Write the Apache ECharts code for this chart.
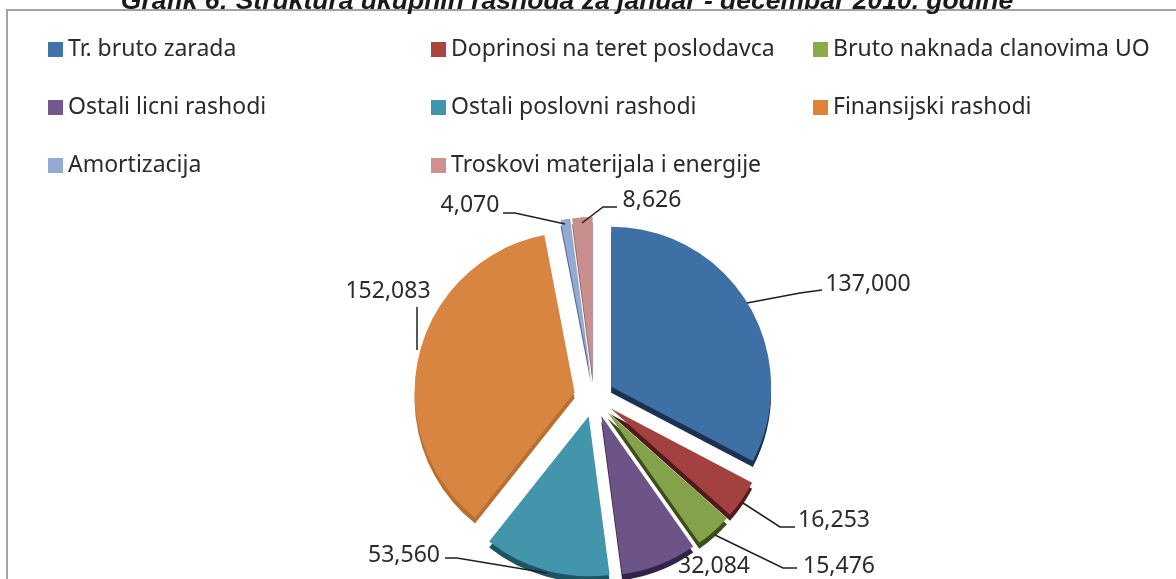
<!DOCTYPE html>
<html>
<head>
<meta charset="utf-8">
<style>
  html, body { margin: 0; padding: 0; background: #fff; }
  #main { width: 1176px; height: 579px; overflow: hidden; }
</style>
<script src="https://cdn.jsdelivr.net/npm/echarts@6/dist/echarts.min.js"></script>
</head>
<body>
<div id="main"></div>
<script>
const categories = ['Tr. bruto zarada', 'Doprinosi na teret poslodavca', 'Bruto naknada clanovima UO',
  'Ostali licni rashodi', 'Ostali poslovni rashodi', 'Finansijski rashodi', 'Amortizacija',
  'Troskovi materijala i energije'];
const values = [137000, 16253, 15476, 32084, 53560, 152083, 4070, 8626];
const faceColors = ['#3f70a5', '#a34140', '#84a24a', '#6d5488', '#4295ab', '#d78540', '#93a9cf', '#c98f8f'];
const sideColors = ['#1b3152', '#4f1a19', '#3d4d1d', '#33234a', '#1d5464', '#b86f30', '#5d6f91', '#8a5c5c'];
const legendColors = ['#4274a9', '#ab4340', '#8aaa4c', '#725891', '#3e97ae', '#de8438', '#93a9d0', '#d09090'];

const textColor = '#2b2a2c';
const center = [594, 397];
const radius = 160;

// text anchor and leader line of each data label, same order as categories
const labelSpots = [
  { x: 868, y: 284, line: [[747, 303], [800, 293], [822, 290]] },
  { x: 834, y: 520, line: [[743, 503], [780, 527], [795, 527]] },
  { x: 839, y: 566, line: [[715, 535], [783, 568], [797, 568]] },
  { x: 714, y: 566, line: null },
  { x: 404, y: 555, line: [[445, 558], [457, 558], [547, 573]] },
  { x: 388, y: 291, line: [[417, 307], [417, 330], [417, 350]] },
  { x: 470, y: 205, line: [[503, 213], [515, 213], [565, 224]] },
  { x: 652, y: 200, line: [[617, 207], [603, 207], [582, 223]] }
];

function pieData(colors) {
  return categories.map((name, i) => ({
    name,
    value: values[i],
    selected: true,
    itemStyle: { color: colors[i] }
  }));
}

function legendColumn(left, idx) {
  return {
    left, top: 33, orient: 'vertical',
    data: idx.map(i => ({ name: categories[i], itemStyle: { color: legendColors[i] } })),
    icon: 'rect', itemWidth: 15, itemHeight: 15, itemGap: 35,
    selectedMode: false,
    textStyle: { fontFamily: 'Noto Sans', fontSize: 23, color: textColor }
  };
}

const pieBase = {
  type: 'pie',
  radius: [0, radius],
  startAngle: 90,
  clockwise: true,
  selectedMode: 'multiple',
  selectedOffset: 20,
  animation: false,
  avoidLabelOverlap: false,
  silent: true,
  label: { show: false },
  labelLine: { show: false }
};

const chart = echarts.init(document.getElementById('main'), null, { renderer: 'canvas' });
chart.setOption({
  animation: false,
  backgroundColor: '#fff',
  title: {
    text: 'Grafik 6: Struktura ukupnih rashoda za januar - decembar 2010. godine',
    left: 562, top: -17, textAlign: 'center',
    textStyle: { fontFamily: 'Liberation Sans', fontSize: 26.5, fontWeight: 'bold', fontStyle: 'italic', color: '#1a1a1a' }
  },
  graphic: [{
    type: 'rect', z: -1, silent: true,
    shape: { x: 7, y: 10, width: 1300, height: 700 },
    style: { fill: 'none', stroke: '#a3a3a6', lineWidth: 2 }
  }],
  legend: [
    legendColumn(43, [0, 3, 6]),
    legendColumn(426, [1, 4, 7]),
    legendColumn(808, [2, 5])
  ],
  series: [
    // darker copy pushed down a little gives the tilted pie its side wall
    Object.assign({}, pieBase, {
      center: [center[0], center[1] + 6],
      z: 1,
      data: pieData(sideColors)
    }),
    Object.assign({}, pieBase, {
      center,
      z: 2,
      data: pieData(faceColors)
    }),
    // unexploded see-through copy only carries the data labels, the select state would pin them otherwise
    {
      type: 'pie',
      center,
      radius: [0, radius],
      startAngle: 90,
      clockwise: true,
      animation: false,
      avoidLabelOverlap: false,
      silent: true,
      z: 3,
      label: {
        show: true,
        formatter: p => p.value.toLocaleString('en-US'),
        fontFamily: 'Noto Sans', fontSize: 23, color: textColor
      },
      labelLine: { show: true, lineStyle: { color: '#1f1f1f', width: 1.5 } },
      labelLayout: params => {
        const spot = labelSpots[params.dataIndex];
        const out = { x: spot.x, y: spot.y, align: 'center', verticalAlign: 'middle' };
        if (spot.line) out.labelLinePoints = spot.line;
        return out;
      },
      data: categories.map((name, i) => ({
        name,
        value: values[i],
        itemStyle: { color: 'transparent', borderWidth: 0 },
        labelLine: { show: !!labelSpots[i].line }
      }))
    }
  ]
});
</script>
</body>
</html>
